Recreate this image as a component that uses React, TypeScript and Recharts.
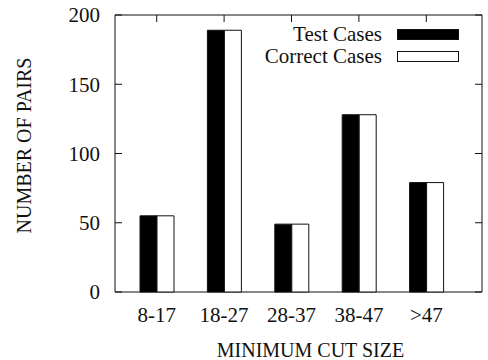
import React from "react";
import {
  BarChart,
  Bar,
  XAxis,
  YAxis,
  CartesianGrid,
  Legend,
} from "recharts";

const categories = ["8-17", "18-27", "28-37", "38-47", ">47"];
const testCases = [55, 189, 49, 128, 79];
const correctCases = [55, 189, 49, 128, 79];
const yTicks = [0, 50, 100, 150, 200];
const seriesOrder = ["Test Cases", "Correct Cases"];

const WIDTH = 488;
const HEIGHT = 360;
const MARGIN = { top: 15, right: 6, left: 0, bottom: 0 };
const FONT = "Liberation Serif, DejaVu Serif, serif";
const INK = "#111";
const TICK_LEN = 7;

const data = categories.map((name, i) => ({
  name,
  test: testCases[i],
  correct: correctCases[i],
}));

const tickStyle = { fontFamily: FONT, fontSize: 21 };
const labelStyle = { fontFamily: FONT, fontSize: 20 };

// left tick labels + inward ticks on both sides
const YTick = (props: any) => {
  const { x, y, payload } = props;
  const axisX = x + 15;
  const rightX = WIDTH - MARGIN.right;
  return (
    <g>
      <line x1={axisX} x2={axisX + TICK_LEN} y1={y} y2={y} stroke={INK} />
      <line x1={rightX - TICK_LEN} x2={rightX} y1={y} y2={y} stroke={INK} />
      <text x={x} y={y} dy="0.35em" textAnchor="end" style={tickStyle} fill={INK}>
        {payload.value}
      </text>
    </g>
  );
};

// bottom labels, ticks only on the top border (bars hide the bottom ones)
const XTick = (props: any) => {
  const { x, y, payload } = props;
  return (
    <g>
      <line
        x1={x}
        x2={x}
        y1={MARGIN.top}
        y2={MARGIN.top + TICK_LEN}
        stroke={INK}
      />
      <text x={x} y={y} dy="0.71em" textAnchor="middle" style={tickStyle} fill={INK}>
        {payload.value}
      </text>
    </g>
  );
};

const YLabel = (props: any) => {
  const { viewBox } = props;
  const cx = 24;
  const cy = viewBox.y + viewBox.height / 2 - 8;
  return (
    <text
      x={cx}
      y={cy}
      transform={`rotate(-90, ${cx}, ${cy})`}
      textAnchor="middle"
      dominantBaseline="central"
      style={labelStyle}
      fill={INK}
    >
      NUMBER OF PAIRS
    </text>
  );
};

const XLabel = (props: any) => {
  const { viewBox } = props;
  const cx = viewBox.x + viewBox.width / 2 + 12;
  return (
    <text x={cx} y={357} textAnchor="middle" style={labelStyle} fill={INK}>
      MINIMUM CUT SIZE
    </text>
  );
};

const LegendBox = (props: any) => {
  const items = [...(props.payload || [])].sort(
    (a: any, b: any) => seriesOrder.indexOf(a.value) - seriesOrder.indexOf(b.value)
  );
  return (
    <div style={{ fontFamily: FONT, fontSize: 21, color: INK }}>
      {items.map((entry: any) => (
        <div
          key={entry.value}
          style={{
            display: "flex",
            alignItems: "center",
            justifyContent: "flex-end",
            height: 22,
            lineHeight: "22px",
          }}
        >
          <span style={{ marginRight: 15, whiteSpace: "nowrap" }}>
            {entry.value}
          </span>
          <span
            style={{
              display: "inline-block",
              boxSizing: "border-box",
              width: 62,
              height: 11,
              marginTop: 1,
              background: entry.payload?.fill ?? entry.color,
              border: `1px solid ${INK}`,
            }}
          />
        </div>
      ))}
    </div>
  );
};

export default function App() {
  return (
    <div style={{ position: "absolute", left: 0, top: 0, background: "#fff" }}>
      <BarChart
        width={WIDTH}
        height={HEIGHT}
        data={data}
        margin={MARGIN}
        barGap={0}
        barSize={17}
        style={{ fontFamily: FONT }}
      >
        <CartesianGrid
          stroke={INK}
          strokeDasharray=""
          horizontalCoordinatesGenerator={({ offset }: any) => [
            offset.top,
            offset.top + offset.height,
          ]}
          verticalCoordinatesGenerator={({ offset }: any) => [
            offset.left,
            offset.left + offset.width,
          ]}
        />
        <XAxis
          dataKey="name"
          height={68}
          axisLine={false}
          tickLine={false}
          tickSize={0}
          tickMargin={15}
          padding={{ left: 8, right: 22 }}
          tick={<XTick />}
          interval={0}
          label={<XLabel />}
        />
        <YAxis
          width={115}
          domain={[0, 200]}
          ticks={yTicks}
          axisLine={false}
          tickLine={false}
          tickSize={0}
          tickMargin={15}
          tick={<YTick />}
          label={<YLabel />}
        />
        <Legend
          layout="vertical"
          align="center"
          verticalAlign="middle"
          content={<LegendBox />}
          wrapperStyle={{ top: 23, right: 29, left: "auto", width: "auto" }}
        />
        <Bar
          dataKey="test"
          name="Test Cases"
          fill="#000"
          stroke={INK}
          isAnimationActive={false}
        />
        <Bar
          dataKey="correct"
          name="Correct Cases"
          fill="#fff"
          stroke={INK}
          isAnimationActive={false}
        />
      </BarChart>
    </div>
  );
}
